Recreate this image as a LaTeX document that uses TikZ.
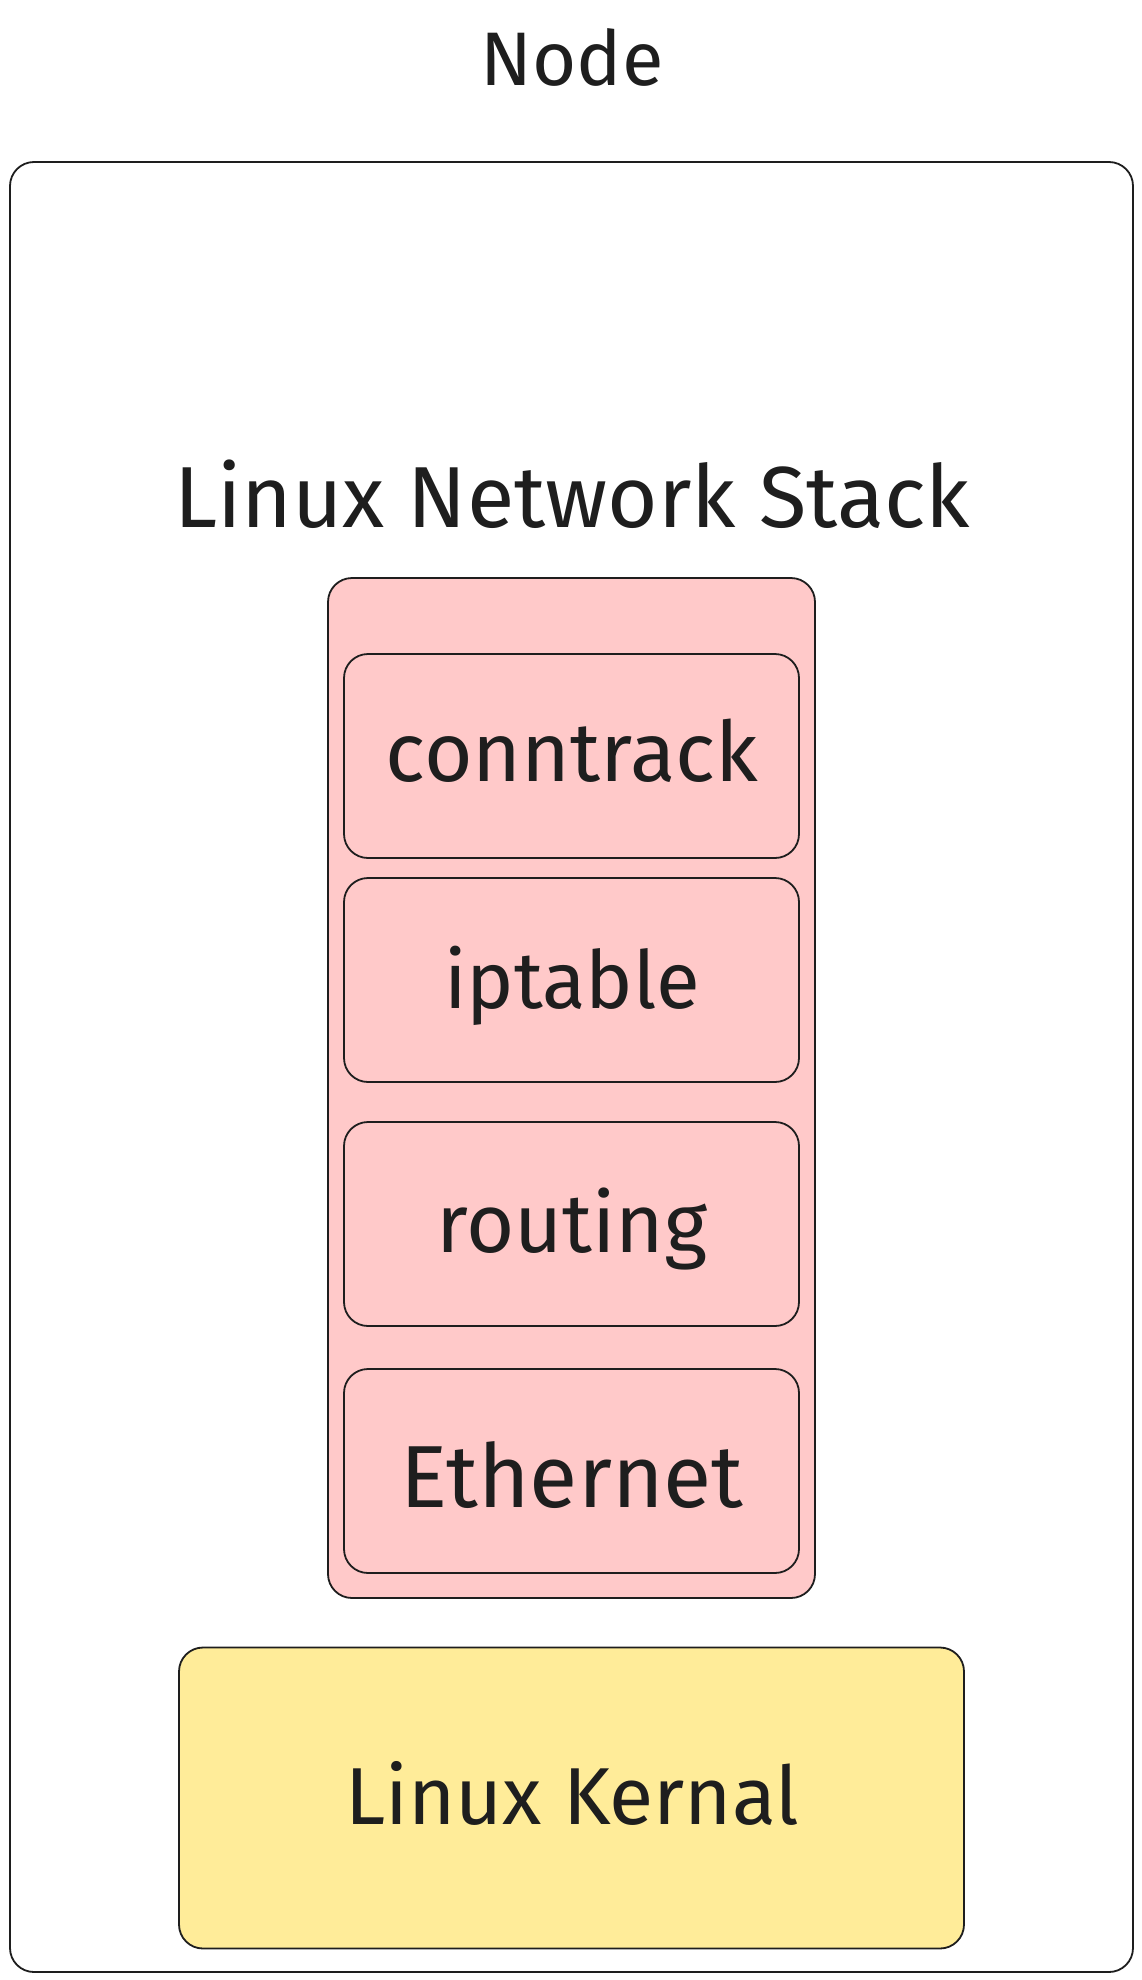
\documentclass[tikz,border=0pt]{standalone}
\usepackage{fontspec}
\usepackage{graphicx}
\setmainfont{Fira Sans}
\definecolor{ink}{HTML}{1E1E1E}
\definecolor{pinkfill}{HTML}{FFC9C9}
\definecolor{yellowfill}{HTML}{FFEC99}
\newcommand{\fitw}[2]{\resizebox{#1pt}{!}{\strut #2}}
\begin{document}
\begin{tikzpicture}[x=1pt,y=-1pt,
  sketchbox/.style={draw=ink, line width=1.8pt, rounded corners=24pt, inner sep=0pt},
  lbl/.style={text=ink, inner sep=0pt, anchor=base, font=\fontsize{70}{80}\selectfont}]
\useasboundingbox[fill=white] (0,0) rectangle (1142,1980);
\node[sketchbox, fill=white, minimum width=1123pt, minimum height=1810pt] (outer) at (571.5,1067) {};
\node[sketchbox, fill=pinkfill, minimum width=487pt, minimum height=1020pt] (stack) at (571.5,1088) {};
\node[sketchbox, fill=pinkfill, minimum width=455pt, minimum height=204pt] (conn) at (571.5,756) {};
\node[sketchbox, fill=pinkfill, minimum width=455pt, minimum height=204pt] (ipt) at (571.5,980) {};
\node[sketchbox, fill=pinkfill, minimum width=455pt, minimum height=204pt] (rout) at (571.5,1224) {};
\node[sketchbox, fill=pinkfill, minimum width=455pt, minimum height=204pt] (eth) at (571.5,1471) {};
\node[sketchbox, fill=yellowfill, minimum width=785pt, minimum height=301pt] (kern) at (571.5,1798) {};
\node[lbl] (nodelbl) at (572,86) {\fitw{183}{Node}};
\node[lbl] (stacklbl) at (572,527) {\fitw{796}{Linux Network Stack}};
\node[lbl] (conntxt) at (572,781) {\fitw{372}{conntrack}};
\node[lbl] (ipttxt) at (572,1008) {\fitw{256}{iptable}};
\node[lbl] (routtxt) at (572,1252) {\fitw{271}{routing}};
\node[lbl] (ethtxt) at (572,1507) {\fitw{343}{Ethernet}};
\node[lbl] (kerntxt) at (572,1824) {\fitw{454}{Linux Kernal}};
\end{tikzpicture}
\end{document}
